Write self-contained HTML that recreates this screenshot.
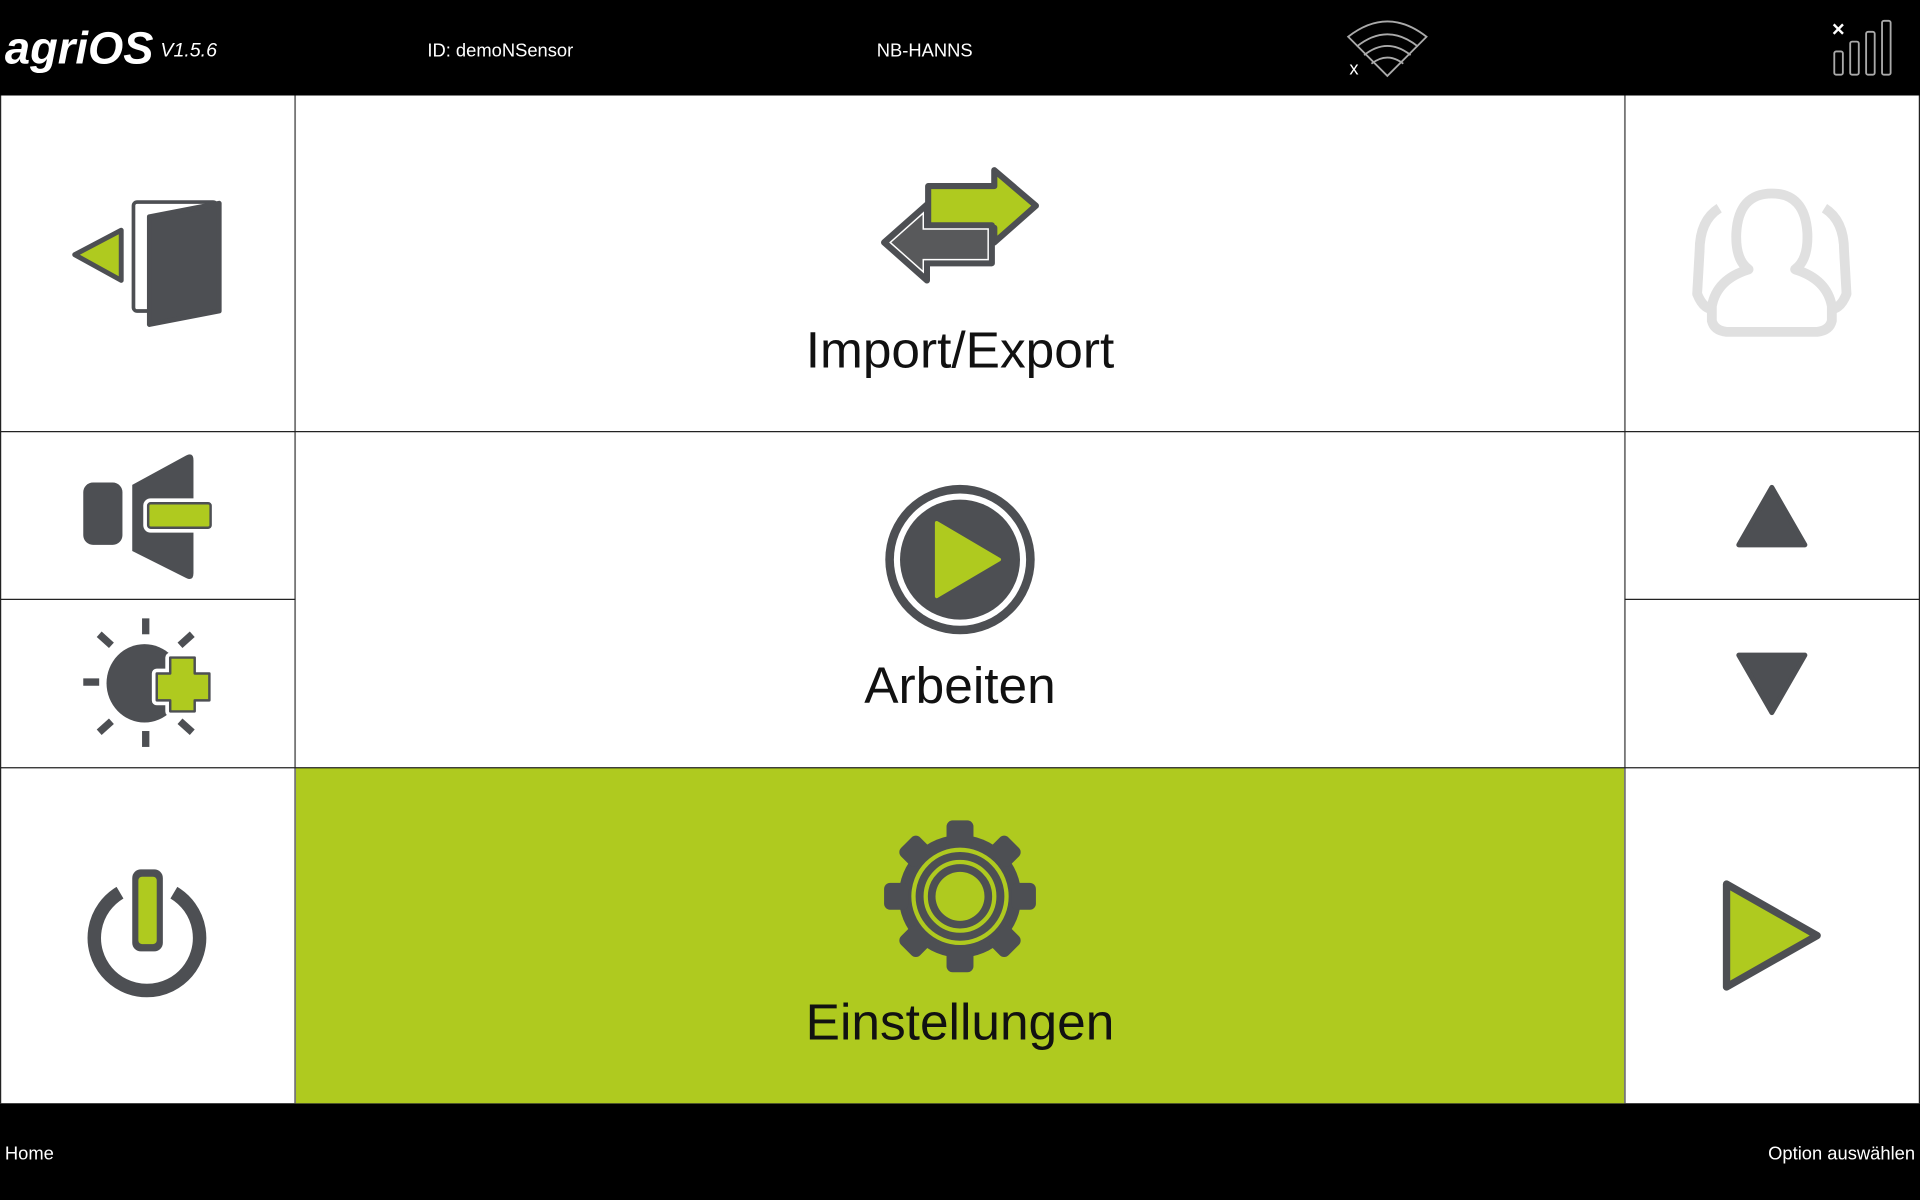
<!DOCTYPE html>
<html><head><meta charset="utf-8"><style>
html,body{margin:0;padding:0;background:#000;}
svg{display:block}
text{font-family:"Liberation Sans",sans-serif}
</style></head><body>
<svg width="1920" height="1200" viewBox="0 0 1568 980" preserveAspectRatio="none" xmlns="http://www.w3.org/2000/svg">
<rect x="0" y="0" width="1568" height="980" fill="#000"/>
<rect x="0" y="78" width="1568" height="823" fill="#fff"/>
<rect x="241" y="627" width="1086" height="274" fill="#afca1f"/>
<g stroke="#222" stroke-width="1" fill="none">
<line x1="241" y1="78" x2="241" y2="901" stroke="#777" stroke-width="1.5"/>
<line x1="1327" y1="78" x2="1327" y2="901" stroke="#777" stroke-width="1.5"/>
<line x1="0" y1="352.5" x2="1568" y2="352.5"/>
<line x1="0" y1="489.5" x2="241" y2="489.5"/>
<line x1="1327" y1="489.5" x2="1568" y2="489.5"/>
<line x1="0" y1="627" x2="1568" y2="627"/>
<line x1="0.5" y1="78" x2="0.5" y2="901"/>
<line x1="1567.5" y1="78" x2="1567.5" y2="901"/>
</g>
<text x="4" y="52" fill="#fff" font-size="37" font-weight="bold" font-style="italic">agriOS</text>
<text x="131" y="46" fill="#fff" font-size="16" font-style="italic">V1.5.6</text>
<text x="349" y="46" fill="#fff" font-size="15">ID: demoNSensor</text>
<text x="716" y="46" fill="#fff" font-size="15">NB-HANNS</text>
<g fill="none" stroke="#aaa" stroke-width="1.5">
<path d="M1101 30 Q1133 5 1165 30 L1133 62 Z"/>
<path d="M1108 38 Q1133 18 1158 38"/>
<path d="M1114 45 Q1133 30 1152 45"/>
<path d="M1120 52 Q1133 42 1146 52"/>
</g>
<text x="1102" y="61" fill="#fff" font-size="15">x</text>
<text x="1496" y="30" fill="#fff" font-size="18" font-weight="bold">×</text>
<g fill="none" stroke="#aaa" stroke-width="1.5">
<rect x="1498" y="42" width="7" height="19" rx="1.5"/>
<rect x="1511" y="34" width="7" height="27" rx="1.5"/>
<rect x="1524" y="26" width="7" height="35" rx="1.5"/>
<rect x="1537" y="17" width="7" height="44" rx="1.5"/>
</g>
<text x="4" y="947" fill="#fff" font-size="15">Home</text>
<text x="1564" y="947" fill="#fff" font-size="15" text-anchor="end">Option auswählen</text>
<!-- exit icon -->
<polygon points="61,208 99,188 99,229" fill="#afca1f" stroke="#4d4f53" stroke-width="4" stroke-linejoin="round"/>
<rect x="109" y="165" width="68" height="89" rx="3" fill="#fff" stroke="#4d4f53" stroke-width="3"/>
<polygon points="122,177 179,166 179,254 122,265" fill="#4d4f53" stroke="#4d4f53" stroke-width="4" stroke-linejoin="round"/>
<!-- speaker -->
<rect x="68" y="394" width="32" height="51" rx="8" fill="#4d4f53"/>
<path d="M108 396 L152 372 Q158 369 158 376 L158 468 Q158 475 152 472 L108 450 Z" fill="#4d4f53"/>
<rect x="117" y="407" width="57" height="28" rx="6" fill="#fff"/>
<rect x="121" y="411" width="51" height="20" rx="2" fill="#afca1f" stroke="#4d4f53" stroke-width="2"/>
<!-- sun -->
<ellipse cx="118" cy="558" rx="31" ry="32" fill="#4d4f53"/>
<g stroke="#4d4f53" stroke-width="6">
<line x1="119" y1="505" x2="119" y2="518"/><line x1="119" y1="597" x2="119" y2="610"/>
<line x1="68" y1="557" x2="81" y2="557"/>
<line x1="81" y1="518" x2="91" y2="527"/><line x1="81" y1="598" x2="91" y2="589"/>
<line x1="157" y1="518" x2="147" y2="527"/><line x1="157" y1="598" x2="147" y2="589"/>
</g>
<path id="pl" d="M139 537 h20 v13 h12 v22 h-12 v9 h-20 v-9 h-11 v-22 h11 z" fill="#afca1f" stroke="#fff" stroke-width="8" stroke-linejoin="round"/>
<path d="M139 537 h20 v13 h12 v22 h-12 v9 h-20 v-9 h-11 v-22 h11 z" fill="#afca1f" stroke="#4d4f53" stroke-width="2" stroke-linejoin="round"/>
<!-- power -->
<path d="M98 729 A43 43 0 1 0 142 729" fill="none" stroke="#4d4f53" stroke-width="11"/>
<rect x="108" y="710" width="25" height="67" rx="7" fill="#4d4f53"/>
<rect x="113" y="716" width="15" height="55" rx="3" fill="#afca1f"/>
<!-- import/export -->
<path d="M758 152 L812 152 L812 139 L846 168 L812 198 L812 186 L758 186 Z" fill="#afca1f" stroke="#4d4f53" stroke-width="5" stroke-linejoin="round"/>
<path d="M810 184 L757 184 L757 167 L722 198 L757 229 L757 215 L810 215 Z" fill="#58595b" stroke="#4d4f53" stroke-width="5" stroke-linejoin="round"/>
<path d="M807 187 L754 187 L754 174 L727 198 L754 222 L754 212 L807 212 Z" fill="none" stroke="#fff" stroke-width="1.2"/>
<text x="784" y="300" font-size="42" text-anchor="middle" fill="#111">Import/Export</text>
<!-- play circle -->
<circle cx="784" cy="457" r="61" fill="#4d4f53"/>
<circle cx="784" cy="457" r="54" fill="#fff"/>
<circle cx="784" cy="457" r="49" fill="#4d4f53"/>
<polygon points="765,427 816,457 765,487" fill="#afca1f" stroke="#afca1f" stroke-width="3" stroke-linejoin="round"/>
<text x="784" y="574" font-size="42" text-anchor="middle" fill="#111">Arbeiten</text>
<!-- gear -->
<g fill="#4d4f53" transform="translate(784,732)">
<circle r="50"/>
<g id="t"><rect x="-11" y="-62" width="22" height="20" rx="5"/></g>
<use href="#t" transform="rotate(45)"/><use href="#t" transform="rotate(90)"/><use href="#t" transform="rotate(135)"/>
<use href="#t" transform="rotate(180)"/><use href="#t" transform="rotate(225)"/><use href="#t" transform="rotate(270)"/><use href="#t" transform="rotate(315)"/>
<circle r="38" fill="none" stroke="#afca1f" stroke-width="3.5"/>
<circle r="28" fill="none" stroke="#afca1f" stroke-width="3.5"/>
<circle r="20" fill="#afca1f"/>
</g>
<text x="784" y="849" font-size="42" text-anchor="middle" fill="#111">Einstellungen</text>
<!-- user -->
<g fill="none" stroke="#e0e0e0" stroke-width="8" stroke-linejoin="round">
<path d="M1404 170 Q1388 180 1388 205 L1386 240 Q1392 255 1402 252"/>
<path d="M1490 170 Q1506 180 1506 205 L1508 240 Q1502 255 1492 252"/>
<path d="M1447 158 Q1420 158 1418 190 Q1417 212 1428 220 Q1402 228 1398 250 L1398 262 Q1400 270 1410 271 L1484 271 Q1494 270 1496 262 L1496 250 Q1492 228 1466 220 Q1477 212 1476 190 Q1474 158 1447 158 Z" fill="#fff"/>
</g>
<polygon points="1420,445 1447,398 1474,445" fill="#4d4f53" stroke="#4d4f53" stroke-width="4" stroke-linejoin="round"/>
<polygon points="1420,535 1474,535 1447,582" fill="#4d4f53" stroke="#4d4f53" stroke-width="4" stroke-linejoin="round"/>
<polygon points="1410,722 1484,764 1410,806" fill="#afca1f" stroke="#4d4f53" stroke-width="6" stroke-linejoin="round"/>
</svg>
</body></html>
